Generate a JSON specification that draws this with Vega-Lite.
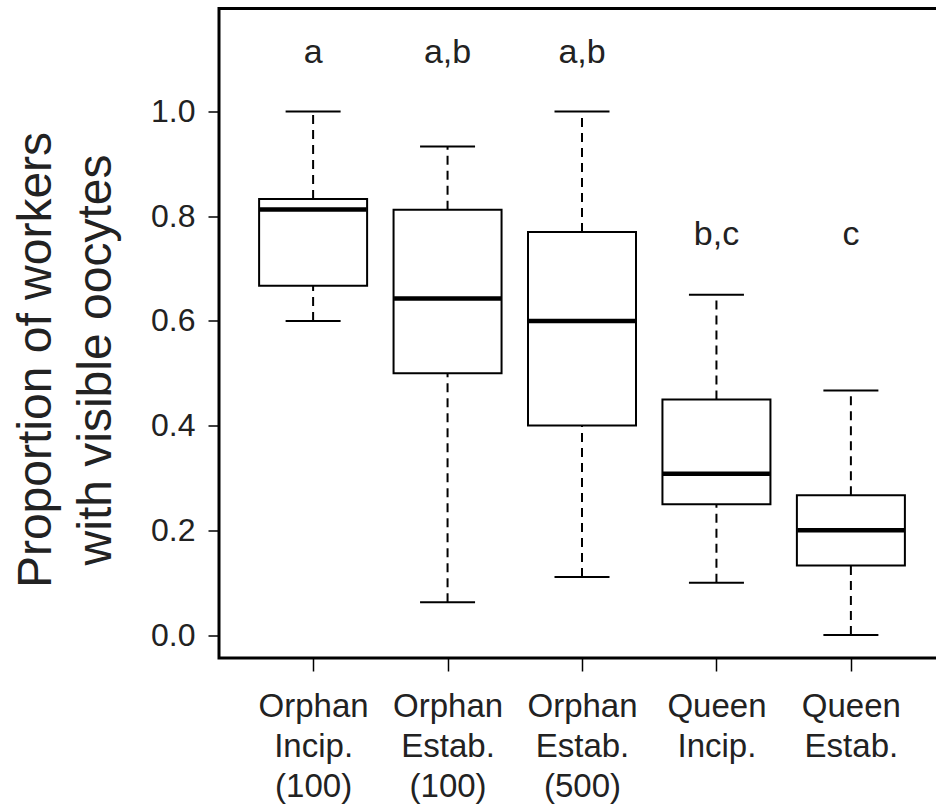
{
  "$schema": "https://vega.github.io/schema/vega-lite/v6.json",
  "autosize": {"type": "none"},
  "padding": {"left": 219, "top": 8.5, "right": 0, "bottom": 150},
  "width": 726,
  "height": 649.5,
  "background": "white",
  "config": {
    "font": "Liberation Sans",
    "view": {"stroke": "black", "strokeWidth": 3},
    "axis": {"grid": false, "domain": false, "tickColor": "black", "labelColor": "#222", "titleColor": "#222", "labelFont": "Liberation Sans", "titleFont": "Liberation Sans"}
  },
  "data": {
    "values": [
      {"group": "Orphan|Incip.|(100)", "min": 0.6, "q1": 0.667, "median": 0.813, "q3": 0.833, "max": 1.0, "letters": "a", "letter_y": 1.093},
      {"group": "Orphan|Estab.|(100)", "min": 0.0625, "q1": 0.5, "median": 0.643, "q3": 0.8125, "max": 0.933, "letters": "a,b", "letter_y": 1.093},
      {"group": "Orphan|Estab.|(500)", "min": 0.111, "q1": 0.4, "median": 0.6, "q3": 0.77, "max": 1.0, "letters": "a,b", "letter_y": 1.093},
      {"group": "Queen|Incip.", "min": 0.1, "q1": 0.25, "median": 0.308, "q3": 0.45, "max": 0.65, "letters": "b,c", "letter_y": 0.745},
      {"group": "Queen|Estab.", "min": 0.0, "q1": 0.133, "median": 0.2, "q3": 0.267, "max": 0.467, "letters": "c", "letter_y": 0.745}
    ]
  },
  "encoding": {
    "x": {
      "field": "group", "type": "nominal", "sort": null,
      "scale": {"type": "point", "padding": 0.7},
      "axis": {
        "title": null, "labelAngle": 0, "tickSize": 13, "tickWidth": 1.5,
        "labelExpr": "split(datum.label, '|')",
        "labelFontSize": 33, "labelLineHeight": 40, "labelPadding": 19,
        "labelBaseline": "top"
      }
    }
  },
  "layer": [
    {
      "mark": {"type": "rule", "strokeWidth": 2, "strokeDash": [9, 6], "color": "black"},
      "encoding": {
        "y": {"field": "min", "type": "quantitative",
          "scale": {"domain": [-0.0439, 1.1967], "nice": false, "zero": false},
          "axis": {
            "values": [0, 0.2, 0.4, 0.6, 0.8, 1.0], "format": ".1f",
            "tickSize": 11, "tickWidth": 1.5, "labelFontSize": 32, "labelPadding": 13,
            "title": ["Proportion of workers", "with visible oocytes"],
            "titleFontSize": 48, "titleFontWeight": "normal", "titleLineHeight": 60,
            "titleAngle": -90, "titleAlign": "center", "titleBaseline": "alphabetic",
            "titleX": -169, "titleY": 351
          }
        },
        "y2": {"field": "q1"}
      }
    },
    {
      "mark": {"type": "rule", "strokeWidth": 2, "strokeDash": [9, 6], "color": "black"},
      "encoding": {
        "y": {"field": "q3", "type": "quantitative"},
        "y2": {"field": "max"}
      }
    },
    {
      "mark": {"type": "bar", "size": 108, "fill": "white", "stroke": "black", "strokeWidth": 2},
      "encoding": {
        "y": {"field": "q1", "type": "quantitative"},
        "y2": {"field": "q3"}
      }
    },
    {
      "mark": {"type": "tick", "size": 107, "thickness": 4.5, "color": "black", "opacity": 1},
      "encoding": {"y": {"field": "median", "type": "quantitative"}}
    },
    {
      "mark": {"type": "tick", "size": 55, "thickness": 2, "color": "black", "opacity": 1},
      "encoding": {"y": {"field": "max", "type": "quantitative"}}
    },
    {
      "mark": {"type": "tick", "size": 55, "thickness": 2, "color": "black", "opacity": 1},
      "encoding": {"y": {"field": "min", "type": "quantitative"}}
    },
    {
      "mark": {"type": "text", "fontSize": 34, "color": "#222", "baseline": "alphabetic", "align": "center"},
      "encoding": {
        "y": {"field": "letter_y", "type": "quantitative"},
        "text": {"field": "letters"}
      }
    }
  ]
}
